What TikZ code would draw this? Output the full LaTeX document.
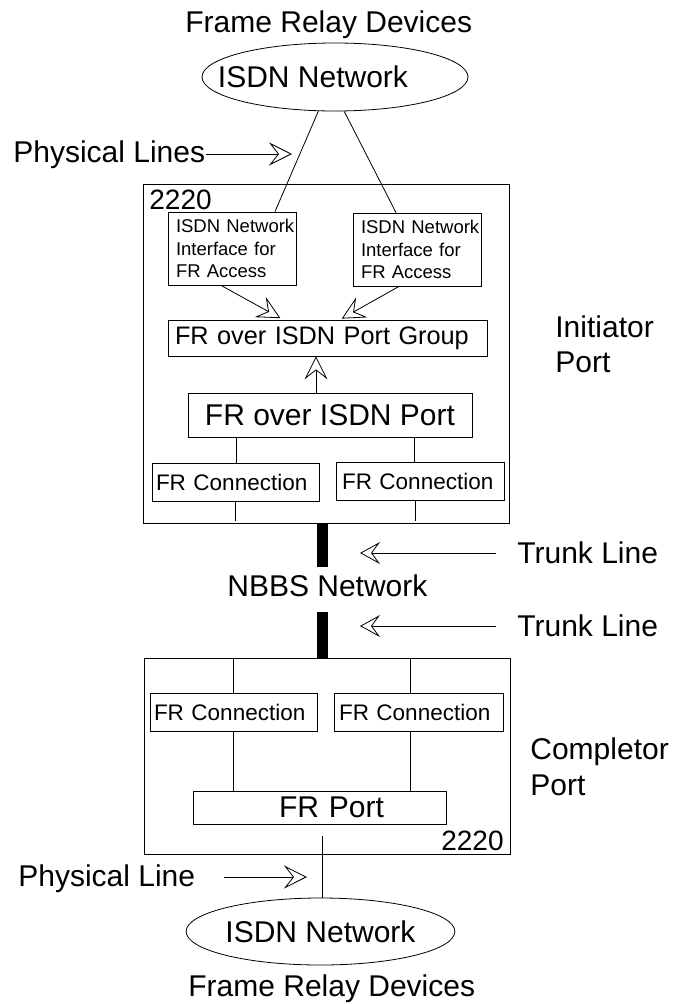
\documentclass[tikz,border=0pt]{standalone}
\usepackage{fontspec}
\setmainfont{Liberation Sans}
\usetikzlibrary{shapes.geometric,arrows.meta,calc}
\begin{document}
\begin{tikzpicture}[x=1pt,y=-1pt, line width=0.8pt,
  lbl/.style={inner sep=0pt, font=\fontsize{30}{36}\selectfont},
  bx/.style={draw, inner sep=0pt, align=left},
  oa/.style={-{Stealth[open, length=23pt, width=23pt, inset=9pt]}},
  ta/.style={-{Stealth[open, length=20pt, width=22pt, inset=8pt]}},
  bar/.style={line width=11pt},
]
\useasboundingbox (0,0) rectangle (674,1004);

% outer 2220 boxes
\node[draw, inner sep=0pt, minimum width=366pt, minimum height=339pt] (b1) at (326,353.5) {};
\node[draw, inner sep=0pt, minimum width=366pt, minimum height=196pt] (b2) at (327,756) {};

% ISDN networks
\node[draw, ellipse, inner sep=0pt, minimum width=266pt, minimum height=68pt,
      font=\fontsize{30}{36}\selectfont] (n1) at (335,77) {\hspace*{-44pt}ISDN Network};
\node[draw, ellipse, inner sep=0pt, minimum width=267pt, minimum height=67pt,
      font=\fontsize{30}{36}\selectfont] (n2) at (320.5,931.5) {ISDN Network};

% top device
\node[bx, minimum height=73pt, text width=128pt, font=\fontsize{18.5}{22.5}\selectfont] (if1) at (232,248.5)
  {\hspace*{8pt}ISDN Network\\\hspace*{8pt}Interface for\\\hspace*{8pt}FR Access};
\node[bx, minimum height=73pt, text width=128pt, font=\fontsize{18.5}{22.5}\selectfont] (if2) at (417,249.5)
  {\hspace*{8pt}ISDN Network\\\hspace*{8pt}Interface for\\\hspace*{8pt}FR Access};
\node[bx, minimum height=36pt, text width=319pt, font=\fontsize{25.3}{30}\selectfont] (pg) at (327.5,338)
  {\hspace*{7pt}FR over ISDN Port Group};
\node[draw, inner sep=0pt, minimum width=284pt, minimum height=44pt, font=\fontsize{30}{36}\selectfont] (port) at (330,415)
  {FR over ISDN Port};
\node[bx, minimum height=38pt, text width=167pt, font=\fontsize{22.5}{27}\selectfont] (fc1) at (235.5,482)
  {\hspace*{4pt}FR Connection};
\node[bx, minimum height=38pt, text width=168pt, font=\fontsize{22.5}{27}\selectfont] (fc2) at (420,481)
  {\hspace*{6pt}FR Connection};

% bottom device
\node[bx, minimum height=38pt, text width=167pt, font=\fontsize{22.5}{27}\selectfont] (fc3) at (233.5,712)
  {\hspace*{4pt}FR Connection};
\node[bx, minimum height=38pt, text width=169pt, font=\fontsize{22.5}{27}\selectfont] (fc4) at (418.5,712)
  {\hspace*{5pt}FR Connection};
\node[bx, minimum height=33pt, text width=253pt, font=\fontsize{30}{36}\selectfont] (frp) at (319.5,807.5)
  {\hspace*{86pt}FR Port};

% labels
\node[lbl, anchor=base west] (frd1) at (185,32) {Frame Relay Devices};
\node[lbl, anchor=base west] (frd2) at (188,996) {Frame Relay Devices};
\node[lbl, anchor=base west] (pl1) at (13,162) {Physical Lines};
\node[lbl, anchor=base west] (pl2) at (18,886) {Physical Line};
\node[inner sep=0pt, anchor=base west, font=\fontsize{28}{34}\selectfont] (d1) at (149,209) {2220};
\node[inner sep=0pt, anchor=base east, font=\fontsize{28}{34}\selectfont] (d2) at (504,850) {2220};
\node[lbl, anchor=base west] (ini) at (555,337) {Initiator};
\node[lbl, anchor=base west] (inip) at (555,372) {Port};
\node[lbl, anchor=base west] (cmp) at (530,759) {Completor};
\node[lbl, anchor=base west] (cmpp) at (530,795) {Port};
\node[lbl, anchor=base west] (nbbs) at (227,596) {NBBS Network};
\node[lbl, anchor=base west] (tl1) at (517,563) {Trunk Line};
\node[lbl, anchor=base west] (tl2) at (517,636) {Trunk Line};

% coordinates for free ends
\coordinate (p1t) at (292,154);
\coordinate (p2t) at (307,877);
\coordinate (a1) at (360,553);
\coordinate (a2) at (360,626);
\coordinate (t1) at (322.5,567);
\coordinate (t2) at (322.5,612);
\coordinate (pv) at (322,836);

% physical lines
\draw (n1.-116.6) -- ([xshift=43pt]if1.north);
\draw (n1.-75.2) -- ([xshift=-21pt]if2.north);
\draw[oa] (pl1.base east |- p1t) -- (p1t);

% inside top device
\draw[oa, shorten >=3pt] ([xshift=-11pt]if1.south) -- ([xshift=-44.5pt]pg.north);
\draw[oa, shorten >=2pt] ([xshift=-18pt]if2.south) -- ([xshift=12.5pt]pg.north);
\draw[oa] ($(port.north)+(-14pt,0)$) -- ($(port.north |- pg.south)+(-14pt,0)$);
\draw ($(port.south)+(-94pt,0)$) -- ($(port.south |- fc1.north)+(-94pt,0)$);
\draw ($(port.south)+(84pt,0)$) -- ($(port.south |- fc2.north)+(84pt,0)$);
\draw (fc1.south) -- ($(fc1.south |- b1.south)+(0,2pt)$);
\draw ($(fc2.south)+(-5pt,0)$) -- ($(fc2.south |- b1.south)+(-5pt,2pt)$);

% trunk lines
\draw[bar] (t1 |- b1.south) -- (t1);
\draw[bar] (t2) -- (t2 |- b2.north);
\draw[ta] ($(tl1.west |- a1)+(-21pt,0)$) -- (a1);
\draw[ta] ($(tl2.west |- a2)+(-21pt,0)$) -- (a2);

% inside bottom device
\draw (fc3.north |- b2.north) -- (fc3.north);
\draw ($(fc4.north |- b2.north)+(-8.5pt,0)$) -- ($(fc4.north)+(-8.5pt,0)$);
\draw (fc3.south) -- (fc3.south |- frp.north);
\draw ($(fc4.south)+(-8.5pt,0)$) -- ($(fc4.south |- frp.north)+(-8.5pt,0)$);

% bottom physical line
\draw (pv) -- (pv |- n2.north);
\draw[oa] ($(pl2.base east |- p2t)+(28pt,0)$) -- (p2t);
\end{tikzpicture}
\end{document}
